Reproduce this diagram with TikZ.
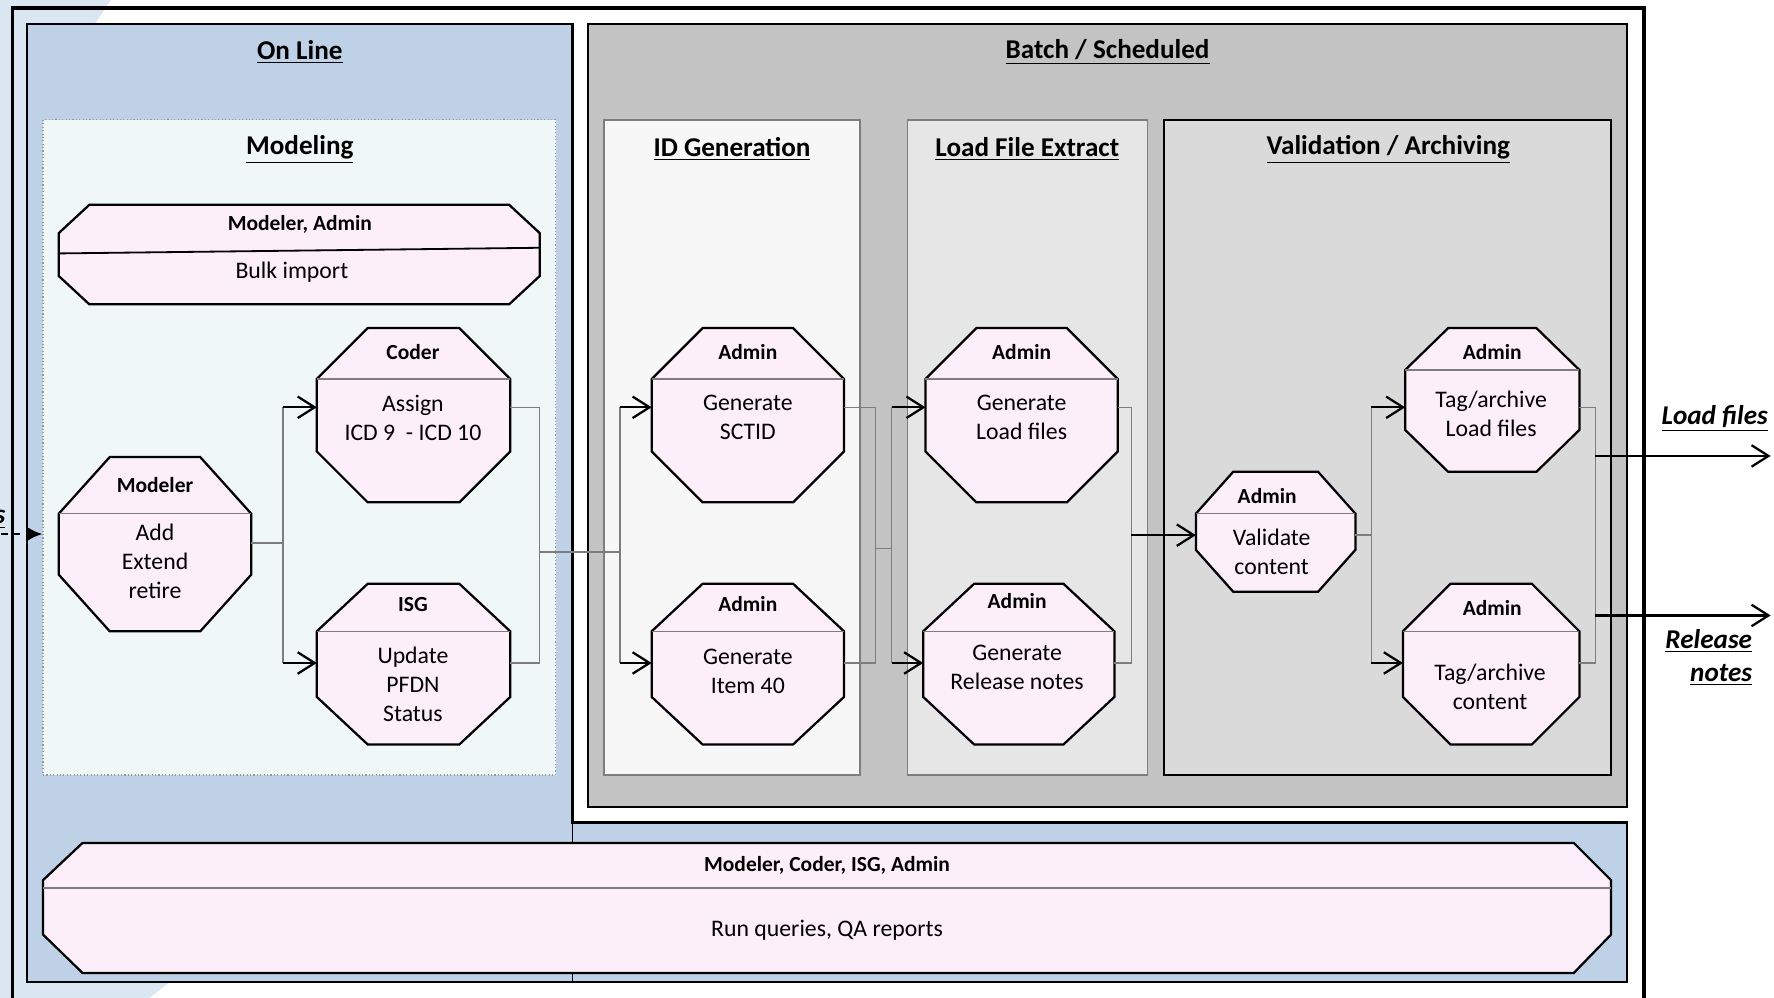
\documentclass[tikz,border=0pt]{standalone}
\usepackage{fontspec}
\setmainfont{Carlito}
\usetikzlibrary{arrows.meta,fit}

\definecolor{onlineblue}{RGB}{190,209,230}
\definecolor{modelfill}{RGB}{239,248,246}
\definecolor{batchgray}{RGB}{195,195,195}
\definecolor{idfill}{RGB}{247,247,247}
\definecolor{lfefill}{RGB}{230,230,230}
\definecolor{valfill}{RGB}{218,218,218}
\definecolor{nodepink}{RGB}{252,239,249}
\definecolor{linegray}{RGB}{125,125,125}
\definecolor{swoosh}{RGB}{218,231,242}

% Activity octagon with a role compartment on top.
% #1 name, #2 left, #3 top, #4 right, #5 bottom, #6 corner cut, #7 divider y, #8 port y
\newcommand{\octframe}[8]{%
  \path[octa] (#2+#6,#3) -- (#4-#6,#3) -- (#4,#7) -- (#4,#5-#7+#3)
     -- (#4-#6,#5) -- (#2+#6,#5) -- (#2,#5-#7+#3) -- (#2,#7) -- cycle;
  \draw[divider] (#2,#7) -- (#4,#7);
  \node[fit={(#2,#3) (#4,#5)}, inner sep=0pt] (#1) {};
  \coordinate (#1-in) at (#2,#8);
  \coordinate (#1-out) at (#4,#8);
}

\begin{document}
\begin{tikzpicture}[x=0.5pt,y=-0.5pt,
  title/.style={font=\fontsize{12}{14}\selectfont\bfseries, inner sep=0pt},
  hdr/.style={font=\fontsize{9.5}{11}\selectfont\bfseries, inner sep=0pt},
  body/.style={font=\fontsize{10.5}{12.8}\selectfont, align=center, inner sep=0pt},
  outlbl/.style={font=\fontsize{12}{14.5}\selectfont\bfseries\itshape, inner sep=0pt, align=right},
  octa/.style={draw=black, line width=1pt, fill=nodepink, line join=miter},
  divider/.style={draw=linegray, line width=0.6pt},
  conn/.style={draw=linegray, line width=0.6pt},
  feed/.style={draw=black, line width=1pt, -{Straight Barb[length=7.5pt,width=9.5pt]}},
  lane/.style={inner sep=0pt},
]
\useasboundingbox (0,0) rectangle (1568,882);
\fill[white] (0,0) rectangle (1568,882);

% soft backdrop on the left edge
\fill[swoosh] (0,0) -- (98,0) -- (11,130) -- (11,882) -- (0,882) -- cycle;
\fill[swoosh] (11,7) rectangle (24,882);
\fill[swoosh] (11,868) -- (150,868) -- (132,882) -- (11,882) -- cycle;

% outer frame
\draw[line width=1.5pt] (11,7) rectangle (1453,905);

% on-line lane with the shared strip along the bottom
\node[lane, fit={(24,21) (506,868)}, fill=onlineblue] (online) {};
\node[lane, fit={(506,727) (1438,868)}, fill=onlineblue] (shared) {};
\draw[line width=1pt] (506,727) -- (506,21) -- (24,21) -- (24,868) -- (1438,868) -- (1438,727) -- cycle;
\draw[line width=0.5pt] (506,727) -- (506,868);

% batch lane and its sub-lanes
\node[lane, fit={(520,21) (1438,713)}, fill=batchgray, draw=black, line width=1pt] (batch) {};
\node[lane, fit={(38,106) (491,685)}, fill=modelfill, draw=gray!80, densely dotted, line width=0.5pt] (modeling) {};
\node[lane, fit={(534,106) (760,685)}, fill=idfill, draw=linegray, line width=0.6pt] (idgen) {};
\node[lane, fit={(802,106) (1014,685)}, fill=lfefill, draw=linegray, line width=0.6pt] (lfe) {};
\node[lane, fit={(1029,106) (1424,685)}, fill=valfill, draw=black, line width=0.9pt] (valarch) {};

% lane titles
\node[title] (t-online) at (265,46) {\underline{On Line}};
\node[title] (t-batch) at (979,46) {\underline{Batch / Scheduled}};
\node[title] (t-modeling) at (265,132) {\underline{Modeling}};
\node[title] (t-idgen) at (647,132) {\underline{ID Generation}};
\node[title] (t-lfe) at (908,132) {\underline{Load File Extract}};
\node[title] (t-val) at (1227,132) {\underline{Validation / Archiving}};

% bulk import
\path[octa] (79,181) -- (450,181) -- (477,206) -- (477,244) -- (450,269) -- (79,269) -- (52,244) -- (52,206) -- cycle;
\draw[line width=0.8pt] (52,224) -- (477,219);
\node[fit={(52,181) (477,269)}, inner sep=0pt] (bulk) {};
\node[hdr] (bulk-h) at (265,198) {Modeler, Admin};
\node[body] (bulk-b) at (258,241) {Bulk import};

% activities
\octframe{modeler}{52}{404}{222}{558}{45}{454}{480}
\octframe{coder}{280}{290}{451}{444}{45}{335}{360}
\octframe{isg}{280}{516}{451}{658}{45}{558}{586}
\octframe{sctid}{576}{290}{746}{444}{45}{335}{360}
\octframe{item40}{576}{516}{746}{658}{45}{558}{586}
\octframe{genlf}{818}{290}{988}{444}{45}{335}{360}
\octframe{genrn}{816}{516}{985}{658}{45}{558}{586}
\octframe{validate}{1057}{417}{1198}{523}{33}{454}{473}
\octframe{taglf}{1242}{290}{1396}{417}{38}{327}{360}
\octframe{tagct}{1240}{516}{1396}{658}{42}{558}{586}

\node[hdr] (modeler-h) at (137,429) {Modeler};
\node[body] (modeler-b) at (137,496) {Add\\Extend\\retire};
\node[hdr] (coder-h) at (365,311) {Coder};
\node[body] (coder-b) at (365,369) {Assign\\ICD 9\ \ - ICD 10};
\node[hdr] (isg-h) at (365,534) {ISG};
\node[body] (isg-b) at (365,605) {Update\\PFDN\\Status};
\node[hdr] (sctid-h) at (661,311) {Admin};
\node[body] (sctid-b) at (661,369) {Generate\\SCTID};
\node[hdr] (item40-h) at (661,534) {Admin};
\node[body] (item40-b) at (661,593) {Generate\\Item 40};
\node[hdr] (genlf-h) at (903,311) {Admin};
\node[body] (genlf-b) at (903,369) {Generate\\Load files};
\node[hdr] (genrn-h) at (899,531) {Admin};
\node[body] (genrn-b) at (899,590) {Generate\\Release notes};
\node[hdr] (validate-h) at (1120,438) {Admin};
\node[body] (validate-b) at (1124,488) {Validate\\content};
\node[hdr] (taglf-h) at (1319,311) {Admin};
\node[body] (taglf-b) at (1318,366) {Tag/archive\\Load files};
\node[hdr] (tagct-h) at (1319,537) {Admin};
\node[body] (tagct-b) at (1317,607) {Tag/archive\\content};

% shared reporting activity
\path[octa] (73,745) -- (1391,745) -- (1424,778) -- (1424,826) -- (1391,860) -- (73,860) -- (38,826) -- (38,778) -- cycle;
\draw[divider] (38,785) -- (1424,785);
\node[fit={(38,745) (1424,860)}, inner sep=0pt] (queries) {};
\node[hdr] (queries-h) at (731,765) {Modeler, Coder, ISG, Admin};
\node[body] (queries-b) at (731,822) {Run queries, QA reports};

% flow: modeling
\coordinate (b1) at (250,480);
\draw[conn] (modeler-out) -- (b1);
\draw[conn] (b1 |- coder-in) -- (b1 |- isg-in);
\draw[feed] (b1 |- coder-in) -- (coder-in);
\draw[feed] (b1 |- isg-in) -- (isg-in);

% flow: into ID generation
\coordinate (b2) at (477,488);
\coordinate (b3) at (548,488);
\draw[conn] (coder-out) -- (b2 |- coder-out) -- (b2 |- isg-out) -- (isg-out);
\draw[conn] (b2) -- (b3);
\draw[conn] (b3 |- sctid-in) -- (b3 |- item40-in);
\draw[feed] (b3 |- sctid-in) -- (sctid-in);
\draw[feed] (b3 |- item40-in) -- (item40-in);

% flow: into load file extract
\coordinate (b4) at (774,485);
\coordinate (b5) at (788,485);
\draw[conn] (sctid-out) -- (b4 |- sctid-out) -- (b4 |- item40-out) -- (item40-out);
\draw[conn] (b4) -- (b5);
\draw[conn] (b5 |- genlf-in) -- (b5 |- genrn-in);
\draw[feed] (b5 |- genlf-in) -- (genlf-in);
\draw[feed] (b5 |- genrn-in) -- (genrn-in);

% flow: into validation
\coordinate (b6) at (1000,473);
\draw[conn] (genlf-out) -- (b6 |- genlf-out) -- (b6 |- genrn-out) -- (genrn-out);
\draw[feed] (b6) -- (validate-in);

% flow: archiving
\coordinate (b7) at (1212,473);
\draw[conn] (validate-out) -- (b7);
\draw[conn] (b7 |- taglf-in) -- (b7 |- tagct-in);
\draw[feed] (b7 |- taglf-in) -- (taglf-in);
\draw[feed] (b7 |- tagct-in) -- (tagct-in);

% outputs
\coordinate (b8) at (1410,473);
\draw[conn] (taglf-out) -- (b8 |- taglf-out) -- (b8 |- tagct-out) -- (tagct-out);
\coordinate (out-lf) at (1565,403);
\coordinate (out-rn) at (1565,544);
\draw[feed] (b8 |- out-lf) -- (out-lf);
\draw[feed] (b8 |- out-rn) -- (out-rn);
\node[outlbl, anchor=east] (lbl-lf) at (1563,370) {\underline{Load files}};
\node[outlbl, anchor=north east] (lbl-rn) at (1549,556) {\underline{Release}\\\underline{notes}};

% incoming request
\coordinate (src) at (-10,472);
\node[outlbl, anchor=east] (lbl-src) at (5,459) {\underline{s}};
\draw[line width=1pt, dash pattern=on 3pt off 2.5pt, -{Latex[length=6.5pt,width=6pt]}] (src) -- (modeling.west |- src);
\end{tikzpicture}
\end{document}
